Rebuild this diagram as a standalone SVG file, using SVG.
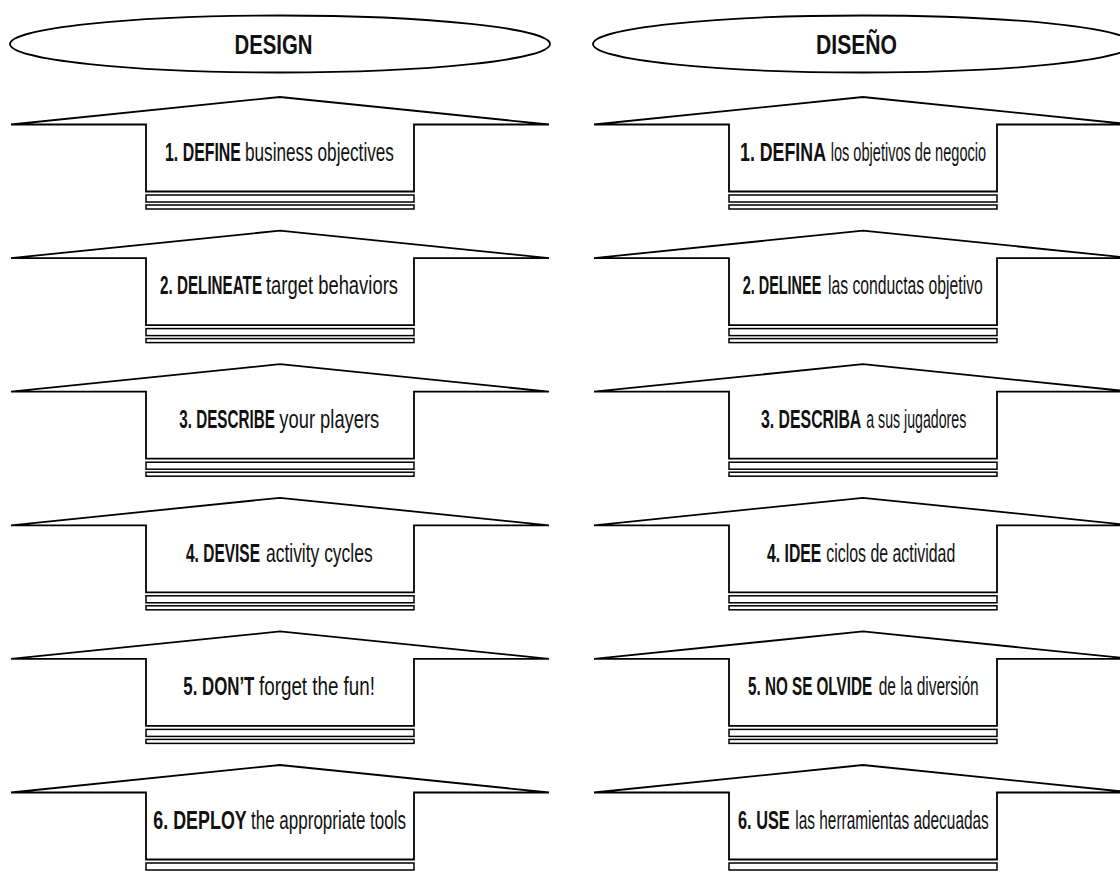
<svg xmlns="http://www.w3.org/2000/svg" xmlns:xlink="http://www.w3.org/1999/xlink" width="1120" height="872" viewBox="0 0 1120 872">
  <style>
    .shape { fill: #ffffff; stroke: #000000; stroke-width: 1.8; stroke-linejoin: miter; }
    .bar { fill: #ffffff; stroke: #000000; stroke-width: 1.5; }
    .head { font-family: "Liberation Sans", Arial, sans-serif; font-weight: bold; font-size: 27px; fill: #111111; }
    .key { font-family: "Liberation Sans", Arial, sans-serif; font-weight: bold; font-size: 26px; fill: #111111; }
    .rest { font-family: "Liberation Sans", Arial, sans-serif; font-size: 26px; fill: #111111; }
  </style>
  <defs>
    <!-- upward block arrow with two stacked base bars; origin = apex -->
    <g id="arrow">
      <path class="shape" d="M -269,27.5 L 0,0 L 269,27.5 L 134,27.5 L 134,94.5 L -134,94.5 L -134,27.5 Z"/>
      <rect class="bar" x="-134" y="98" width="268" height="7"/>
      <rect class="bar" x="-134" y="108" width="268" height="4"/>
    </g>
  </defs>
  <rect width="1120" height="872" fill="#ffffff"/>

  <!-- headers (condensed by horizontal scaling) -->
  <g id="header-en">
    <ellipse class="shape" cx="280" cy="44" rx="270" ry="28.5"/>
    <text class="head" transform="translate(234.5,53.5) scale(0.754,1)" textLength="103.5" lengthAdjust="spacingAndGlyphs">DESIGN</text>
  </g>
  <g id="header-es">
    <ellipse class="shape" cx="863" cy="44" rx="270" ry="28.5"/>
    <text class="head" transform="translate(816,53.5) scale(0.783,1)" textLength="103.5" lengthAdjust="spacingAndGlyphs">DISEÑO</text>
  </g>

  <!-- English steps -->
  <g id="step1-en">
    <use href="#arrow" xlink:href="#arrow" x="280" y="97"/>
    <text class="key" transform="translate(165,160.7) scale(0.611,1)" textLength="124.3" lengthAdjust="spacingAndGlyphs">1. DEFINE</text>
    <text class="rest" transform="translate(245,160.7) scale(0.661,1)" textLength="225.3" lengthAdjust="spacingAndGlyphs">business objectives</text>
  </g>
  <g id="step2-en">
    <use href="#arrow" xlink:href="#arrow" x="280" y="230.6"/>
    <text class="key" transform="translate(160,294.3) scale(0.579,1)" textLength="176.3" lengthAdjust="spacingAndGlyphs">2. DELINEATE</text>
    <text class="rest" transform="translate(266,294.3) scale(0.708,1)" textLength="186.4" lengthAdjust="spacingAndGlyphs">target behaviors</text>
  </g>
  <g id="step3-en">
    <use href="#arrow" xlink:href="#arrow" x="280" y="364.2"/>
    <text class="key" transform="translate(179.3,427.9) scale(0.585,1)" textLength="163.3" lengthAdjust="spacingAndGlyphs">3. DESCRIBE</text>
    <text class="rest" transform="translate(279.3,427.9) scale(0.706,1)" textLength="141.6" lengthAdjust="spacingAndGlyphs">your players</text>
  </g>
  <g id="step4-en">
    <use href="#arrow" xlink:href="#arrow" x="280" y="497.8"/>
    <text class="key" transform="translate(186,561.5) scale(0.595,1)" textLength="124.3" lengthAdjust="spacingAndGlyphs">4. DEVISE</text>
    <text class="rest" transform="translate(266,561.5) scale(0.671,1)" textLength="158.9" lengthAdjust="spacingAndGlyphs">activity cycles</text>
  </g>
  <g id="step5-en">
    <use href="#arrow" xlink:href="#arrow" x="280" y="631.4"/>
    <text class="key" transform="translate(183.3,695.1) scale(0.647,1)" textLength="109.8" lengthAdjust="spacingAndGlyphs">5. DON’T</text>
    <text class="rest" transform="translate(259,695.1) scale(0.723,1)" textLength="160.4" lengthAdjust="spacingAndGlyphs">forget the fun!</text>
  </g>
  <g id="step6-en">
    <use href="#arrow" xlink:href="#arrow" x="280" y="765"/>
    <text class="key" transform="translate(153.3,828.7) scale(0.688,1)" textLength="135.8" lengthAdjust="spacingAndGlyphs">6. DEPLOY</text>
    <text class="rest" transform="translate(251,828.7) scale(0.654,1)" textLength="237" lengthAdjust="spacingAndGlyphs">the appropriate tools</text>
  </g>

  <!-- Spanish steps -->
  <g id="step1-es">
    <use href="#arrow" xlink:href="#arrow" x="863" y="97"/>
    <text class="key" transform="translate(740,160.7) scale(0.684,1)" textLength="125.7" lengthAdjust="spacingAndGlyphs">1. DEFINA</text>
    <text class="rest" transform="translate(830.7,160.7) scale(0.560,1)" textLength="277.5" lengthAdjust="spacingAndGlyphs">los objetivos de negocio</text>
  </g>
  <g id="step2-es">
    <use href="#arrow" xlink:href="#arrow" x="863" y="230.6"/>
    <text class="key" transform="translate(742.7,294.3) scale(0.555,1)" textLength="141.6" lengthAdjust="spacingAndGlyphs">2. DELINEE</text>
    <text class="rest" transform="translate(828,294.3) scale(0.605,1)" textLength="255.8" lengthAdjust="spacingAndGlyphs">las conductas objetivo</text>
  </g>
  <g id="step3-es">
    <use href="#arrow" xlink:href="#arrow" x="863" y="364.2"/>
    <text class="key" transform="translate(761,427.9) scale(0.609,1)" textLength="164.7" lengthAdjust="spacingAndGlyphs">3. DESCRIBA</text>
    <text class="rest" transform="translate(866.3,427.9) scale(0.545,1)" textLength="183.5" lengthAdjust="spacingAndGlyphs">a sus jugadores</text>
  </g>
  <g id="step4-es">
    <use href="#arrow" xlink:href="#arrow" x="863" y="497.8"/>
    <text class="key" transform="translate(767,561.5) scale(0.606,1)" textLength="89.6" lengthAdjust="spacingAndGlyphs">4. IDEE</text>
    <text class="rest" transform="translate(826.3,561.5) scale(0.611,1)" textLength="211" lengthAdjust="spacingAndGlyphs">ciclos de actividad</text>
  </g>
  <g id="step5-es">
    <use href="#arrow" xlink:href="#arrow" x="863" y="631.4"/>
    <text class="key" transform="translate(748,695.1) scale(0.580,1)" textLength="213.9" lengthAdjust="spacingAndGlyphs">5. NO SE OLVIDE</text>
    <text class="rest" transform="translate(878.7,695.1) scale(0.597,1)" textLength="167.6" lengthAdjust="spacingAndGlyphs">de la diversión</text>
  </g>
  <g id="step6-es">
    <use href="#arrow" xlink:href="#arrow" x="863" y="765"/>
    <text class="key" transform="translate(738,828.7) scale(0.627,1)" textLength="82.4" lengthAdjust="spacingAndGlyphs">6. USE</text>
    <text class="rest" transform="translate(795.3,828.7) scale(0.617,1)" textLength="313.6" lengthAdjust="spacingAndGlyphs">las herramientas adecuadas</text>
  </g>

  <g id="connectors"/>
</svg>
